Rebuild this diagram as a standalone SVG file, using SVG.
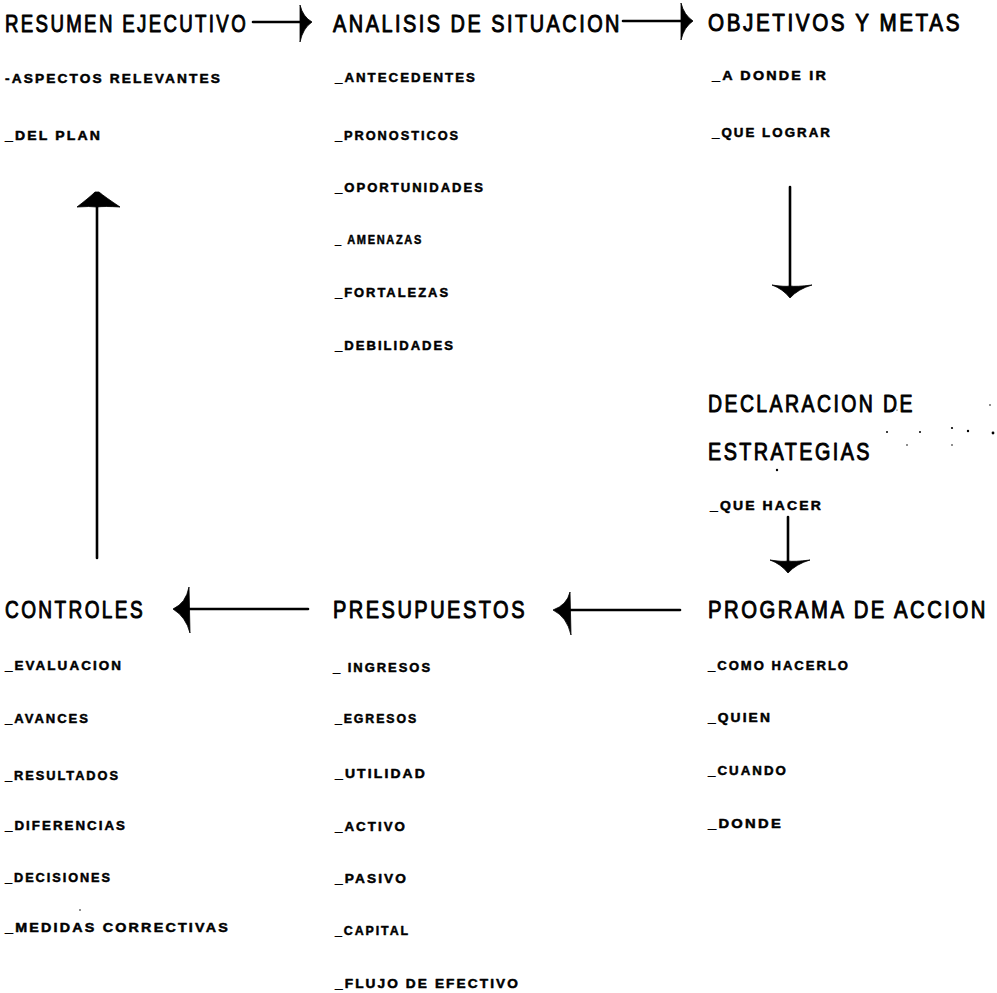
<svg xmlns="http://www.w3.org/2000/svg" width="997" height="993" viewBox="0 0 997 993">
  <style>
    .bg { fill: #ffffff; }
    /* lettering-style headings: narrow glyphs, stretched upright */
    .title { font-family: "Liberation Sans", Arial, sans-serif; font-size: 20px; letter-spacing: 2.5px; fill: #000; stroke: #000; stroke-width: 0.8px; stroke-linejoin: round; }
    .item { font-family: "Liberation Sans", Arial, sans-serif; font-size: 13px; font-weight: bold; letter-spacing: 2px; fill: #000; stroke: #000; stroke-width: 0.5px; stroke-linejoin: round; }
    .shaft { stroke: #000; stroke-width: 2.6; fill: none; stroke-linecap: round; }
    .head { fill: #000; stroke: #000; stroke-width: 0.8; stroke-linejoin: round; }
    .speck { fill: #000; }
  </style>
  <rect class="bg" x="0" y="0" width="997" height="993"/>

  <!-- Plan sections -->
  <g id="resumen-ejecutivo">
    <text class="title" transform="translate(5,32) scale(1,1.22)" textLength="243" lengthAdjust="spacingAndGlyphs">RESUMEN EJECUTIVO</text>
    <text class="item" x="5" y="83" textLength="217" lengthAdjust="spacingAndGlyphs">-ASPECTOS RELEVANTES</text>
    <text class="item" x="5" y="140" textLength="97" lengthAdjust="spacingAndGlyphs">_DEL PLAN</text>
  </g>

  <g id="analisis-situacion">
    <text class="title" transform="translate(333,32) scale(1,1.22)" textLength="289" lengthAdjust="spacingAndGlyphs">ANALISIS DE SITUACION</text>
    <text class="item" x="335" y="82" textLength="142" lengthAdjust="spacingAndGlyphs">_ANTECEDENTES</text>
    <text class="item" x="335" y="140" textLength="125" lengthAdjust="spacingAndGlyphs">_PRONOSTICOS</text>
    <text class="item" x="335" y="192" textLength="150" lengthAdjust="spacingAndGlyphs">_OPORTUNIDADES</text>
    <text class="item" x="335" y="244" textLength="88" lengthAdjust="spacingAndGlyphs">_ AMENAZAS</text>
    <text class="item" x="335" y="297" textLength="115" lengthAdjust="spacingAndGlyphs">_FORTALEZAS</text>
    <text class="item" x="335" y="350" textLength="120" lengthAdjust="spacingAndGlyphs">_DEBILIDADES</text>
  </g>

  <g id="objetivos-metas">
    <text class="title" transform="translate(708,31) scale(1,1.22)" textLength="254" lengthAdjust="spacingAndGlyphs">OBJETIVOS Y METAS</text>
    <text class="item" x="712" y="80" textLength="116" lengthAdjust="spacingAndGlyphs">_A DONDE IR</text>
    <text class="item" x="712" y="137" textLength="120" lengthAdjust="spacingAndGlyphs">_QUE LOGRAR</text>
  </g>

  <g id="declaracion-estrategias">
    <text class="title" transform="translate(708,412) scale(1,1.22)" textLength="207" lengthAdjust="spacingAndGlyphs">DECLARACION DE</text>
    <text class="title" transform="translate(708,460) scale(1,1.22)" textLength="164" lengthAdjust="spacingAndGlyphs">ESTRATEGIAS</text>
    <text class="item" x="710" y="510" textLength="113" lengthAdjust="spacingAndGlyphs">_QUE HACER</text>
  </g>

  <g id="programa-accion">
    <text class="title" transform="translate(708,618) scale(1,1.22)" textLength="280" lengthAdjust="spacingAndGlyphs">PROGRAMA DE ACCION</text>
    <text class="item" x="708" y="670" textLength="142" lengthAdjust="spacingAndGlyphs">_COMO HACERLO</text>
    <text class="item" x="708" y="722" textLength="64" lengthAdjust="spacingAndGlyphs">_QUIEN</text>
    <text class="item" x="708" y="775" textLength="80" lengthAdjust="spacingAndGlyphs">_CUANDO</text>
    <text class="item" x="708" y="828" textLength="75" lengthAdjust="spacingAndGlyphs">_DONDE</text>
  </g>

  <g id="presupuestos">
    <text class="title" transform="translate(333,618) scale(1,1.22)" textLength="194" lengthAdjust="spacingAndGlyphs">PRESUPUESTOS</text>
    <text class="item" x="333" y="672" textLength="99" lengthAdjust="spacingAndGlyphs">_ INGRESOS</text>
    <text class="item" x="335" y="723" textLength="83" lengthAdjust="spacingAndGlyphs">_EGRESOS</text>
    <text class="item" x="335" y="778" textLength="92" lengthAdjust="spacingAndGlyphs">_UTILIDAD</text>
    <text class="item" x="335" y="831" textLength="72" lengthAdjust="spacingAndGlyphs">_ACTIVO</text>
    <text class="item" x="335" y="883" textLength="73" lengthAdjust="spacingAndGlyphs">_PASIVO</text>
    <text class="item" x="335" y="935" textLength="75" lengthAdjust="spacingAndGlyphs">_CAPITAL</text>
    <text class="item" x="335" y="988" textLength="185" lengthAdjust="spacingAndGlyphs">_FLUJO DE EFECTIVO</text>
  </g>

  <g id="controles">
    <text class="title" transform="translate(5,618) scale(1,1.22)" textLength="140" lengthAdjust="spacingAndGlyphs">CONTROLES</text>
    <text class="item" x="5" y="670" textLength="118" lengthAdjust="spacingAndGlyphs">_EVALUACION</text>
    <text class="item" x="5" y="723" textLength="85" lengthAdjust="spacingAndGlyphs">_AVANCES</text>
    <text class="item" x="5" y="780" textLength="115" lengthAdjust="spacingAndGlyphs">_RESULTADOS</text>
    <text class="item" x="5" y="830" textLength="122" lengthAdjust="spacingAndGlyphs">_DIFERENCIAS</text>
    <text class="item" x="5" y="882" textLength="107" lengthAdjust="spacingAndGlyphs">_DECISIONES</text>
    <text class="item" x="5" y="932" textLength="225" lengthAdjust="spacingAndGlyphs">_MEDIDAS CORRECTIVAS</text>
  </g>

  <!-- Flow arrows between sections -->
  <g id="connectors">
    <!-- resumen -> analisis -->
    <line class="shaft" x1="253" y1="22" x2="302" y2="22"/>
    <path class="head" d="M300,5 Q303,17 312,22 Q303,28 300,42 Z"/>
    <!-- analisis -> objetivos -->
    <line class="shaft" x1="623" y1="21" x2="683" y2="21"/>
    <path class="head" d="M681,3 Q684,15 693,21 Q684,27 681,40 Z"/>
    <!-- objetivos -> declaracion -->
    <line class="shaft" x1="790" y1="187" x2="790" y2="287"/>
    <path class="head" d="M772,285 Q785,287 790,286 Q796,287 812,285 Q798,289 790,298 Q783,289 772,285 Z"/>
    <!-- declaracion -> programa -->
    <line class="shaft" x1="788" y1="517" x2="788" y2="562"/>
    <path class="head" d="M770,560 Q783,562 788,561 Q794,562 810,560 Q796,564 788,573 Q781,564 770,560 Z"/>
    <!-- programa -> presupuestos -->
    <line class="shaft" x1="568" y1="610" x2="680" y2="610"/>
    <path class="head" d="M570,592 Q567,605 553,610 Q567,617 571,635 Z"/>
    <!-- presupuestos -> controles -->
    <line class="shaft" x1="188" y1="609" x2="308" y2="609"/>
    <path class="head" d="M189,587 Q186,603 173,609 Q186,617 190,633 Z"/>
    <!-- controles -> resumen -->
    <line class="shaft" x1="97" y1="558" x2="97" y2="205"/>
    <path class="head" d="M77,207 Q90,197 95,192 L99,192 Q105,197 120,207 Q104,206 97,207 Q90,206 77,207 Z"/>
  </g>

  <!-- scattered specks -->
  <g id="specks">
    <circle class="speck" cx="887" cy="432" r="1"/>
    <circle class="speck" cx="920" cy="432" r="1"/>
    <circle class="speck" cx="952" cy="428" r="1.1"/>
    <circle class="speck" cx="968" cy="431" r="1.2"/>
    <circle class="speck" cx="993" cy="433" r="1.4"/>
    <circle class="speck" cx="907" cy="445" r="0.8"/>
    <circle class="speck" cx="952" cy="445" r="0.8"/>
    <circle class="speck" cx="990" cy="405" r="0.8"/>
    <circle class="speck" cx="897" cy="410" r="0.6"/>
    <circle class="speck" cx="777" cy="470" r="1.2"/>
    <circle class="speck" cx="80" cy="910" r="0.8"/>
  </g>
</svg>
